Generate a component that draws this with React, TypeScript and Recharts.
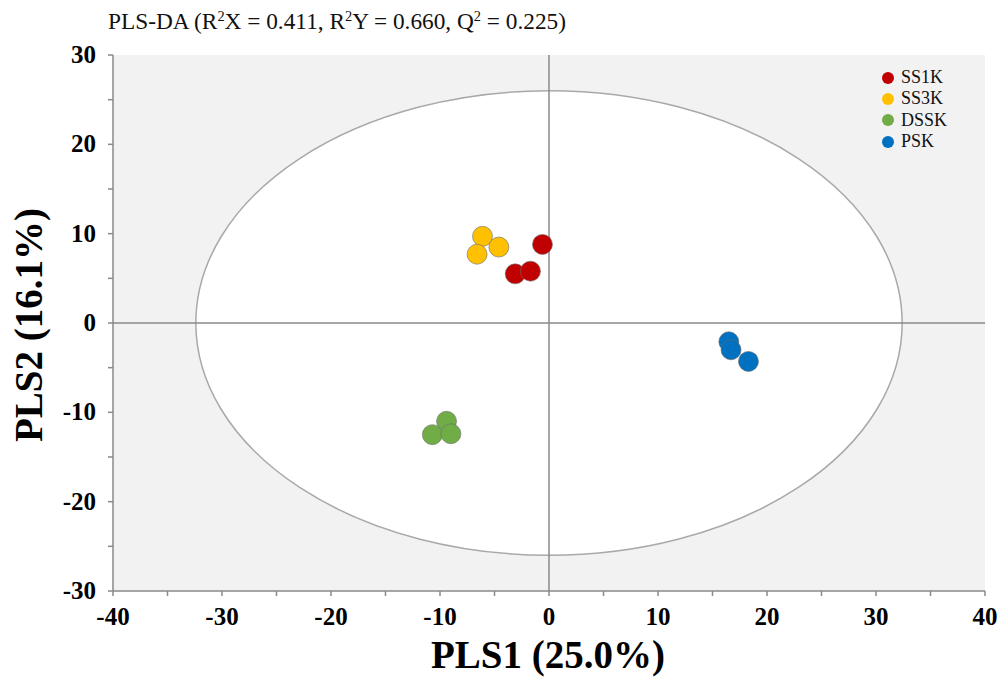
import React from 'react';
import {
  Legend,
  ReferenceArea,
  ReferenceLine,
  Scatter,
  ScatterChart,
  XAxis,
  YAxis,
} from 'recharts';

// Scores PLS-DA (PLS1, PLS2)
const SS1K = [
  { x: -0.6, y: 8.8 },
  { x: -3.1, y: 5.5 },
  { x: -1.7, y: 5.8 },
];
const SS3K = [
  { x: -6.1, y: 9.7 },
  { x: -4.6, y: 8.5 },
  { x: -6.6, y: 7.7 },
];
const DSSK = [
  { x: -9.4, y: -11.0 },
  { x: -10.7, y: -12.5 },
  { x: -9.0, y: -12.4 },
];
const PSK = [
  { x: 16.5, y: -2.1 },
  { x: 16.7, y: -3.0 },
  { x: 18.3, y: -4.3 },
];

const SERIES = [
  { name: 'SS1K', data: SS1K, color: '#c00000' },
  { name: 'SS3K', data: SS3K, color: '#ffc000' },
  { name: 'DSSK', data: DSSK, color: '#70ad47' },
  { name: 'PSK', data: PSK, color: '#0070c0' },
];

const X_TICKS = [-40, -35, -30, -25, -20, -15, -10, -5, 0, 5, 10, 15, 20, 25, 30, 35, 40];
const Y_TICKS = [-30, -25, -20, -15, -10, -5, 0, 5, 10, 15, 20, 25, 30];

// Elipse T2 de Hotelling (semiejes)
const ELIPSE_RX = 32.4;
const ELIPSE_RY = 26;

const FUENTE = 'Liberation Serif, Times New Roman, serif';
const GRIS = '#8a8a8a';

const etiqueta = (v: number) => (v % 10 === 0 ? String(v) : '');

function Punto(props: any) {
  const { cx, cy, fill } = props;
  if (cx == null || cy == null) return null;
  return <circle cx={cx} cy={cy} r={10} fill={fill} stroke="#6b6b6b" strokeWidth={0.6} />;
}

function TickX(props: any) {
  const { x, y, payload } = props;
  return (
    <text
      x={x}
      y={y}
      dy={17}
      textAnchor="middle"
      style={{ fontFamily: FUENTE, fontWeight: 'bold', fontSize: 25 }}
      fill="#000"
    >
      {etiqueta(payload.value)}
    </text>
  );
}

function TickY(props: any) {
  const { x, y, payload } = props;
  return (
    <text
      x={x}
      y={y}
      dy={8}
      textAnchor="end"
      style={{ fontFamily: FUENTE, fontWeight: 'bold', fontSize: 25 }}
      fill="#000"
    >
      {etiqueta(payload.value)}
    </text>
  );
}

function Leyenda() {
  return (
    <div style={{ fontFamily: FUENTE, fontSize: 18, color: '#111' }}>
      {SERIES.map((s) => (
        <div key={s.name} style={{ display: 'flex', alignItems: 'center', height: 21.3 }}>
          <span
            style={{
              display: 'inline-block',
              width: 12,
              height: 12,
              borderRadius: 6,
              background: s.color,
              marginRight: 7,
            }}
          />
          <span>{s.name}</span>
        </div>
      ))}
    </div>
  );
}

const sup = { fontSize: '0.62em', verticalAlign: '0.55em' };

export default function App() {
  return (
    <div style={{ position: 'absolute', left: 0, top: 0, width: 1000, height: 678, background: '#fff' }}>
      <div
        style={{
          position: 'absolute',
          left: 108,
          top: 8,
          fontFamily: FUENTE,
          fontSize: 23.3,
          color: '#111',
          whiteSpace: 'nowrap',
          zIndex: 2,
        }}
      >
        PLS-DA (R<span style={sup}>2</span>X = 0.411, R<span style={sup}>2</span>Y = 0.660, Q
        <span style={sup}>2</span> = 0.225)
      </div>
      <ScatterChart
        width={1000}
        height={678}
        margin={{ top: 55, right: 15, bottom: 0, left: 0 }}
        style={{ fontFamily: FUENTE }}
      >
        <XAxis
          type="number"
          dataKey="x"
          domain={[-40, 40]}
          ticks={X_TICKS}
          interval={0}
          height={87}
          axisLine={{ stroke: GRIS, strokeWidth: 1.5 }}
          tickLine={{ stroke: GRIS, strokeWidth: 1.5 }}
          tickSize={5}
          tickMargin={12}
          tick={<TickX />}
          label={() => (
            <text
              x={548}
              y={668}
              textAnchor="middle"
              style={{ fontFamily: FUENTE, fontWeight: 'bold', fontSize: 39 }}
              fill="#000"
            >
              PLS1 (25.0%)
            </text>
          )}
        />
        <YAxis
          type="number"
          dataKey="y"
          domain={[-30, 30]}
          ticks={Y_TICKS}
          interval={0}
          width={113}
          axisLine={{ stroke: GRIS, strokeWidth: 1.5 }}
          tickLine={{ stroke: GRIS, strokeWidth: 1.5 }}
          tickSize={5}
          tickMargin={12}
          tick={<TickY />}
          label={() => (
            <text
              x={42}
              y={325}
              textAnchor="middle"
              transform="rotate(-90, 42, 325)"
              style={{ fontFamily: FUENTE, fontWeight: 'bold', fontSize: 39 }}
              fill="#000"
            >
              PLS2 (16.1%)
            </text>
          )}
        />
        <ReferenceArea x1={-40} x2={40} y1={-30} y2={30} fill="#f2f2f2" fillOpacity={1} stroke="none" />
        <ReferenceArea
          x1={-ELIPSE_RX}
          x2={ELIPSE_RX}
          y1={-ELIPSE_RY}
          y2={ELIPSE_RY}
          shape={(p: any) => (
            <ellipse
              cx={p.x + p.width / 2}
              cy={p.y + p.height / 2}
              rx={Math.abs(p.width / 2)}
              ry={Math.abs(p.height / 2)}
              fill="#ffffff"
              stroke="#a9a9a9"
              strokeWidth={1.5}
            />
          )}
        />
        <ReferenceLine x={0} stroke={GRIS} strokeWidth={1.5} />
        <ReferenceLine y={0} stroke={GRIS} strokeWidth={1.5} />
        {SERIES.map((s) => (
          <Scatter
            key={s.name}
            name={s.name}
            data={s.data}
            fill={s.color}
            shape={<Punto />}
            isAnimationActive={false}
          />
        ))}
        <Legend
          layout="vertical"
          verticalAlign="middle"
          align="center"
          content={<Leyenda />}
          wrapperStyle={{ top: 67, left: 882, width: 100 }}
        />
      </ScatterChart>
    </div>
  );
}
